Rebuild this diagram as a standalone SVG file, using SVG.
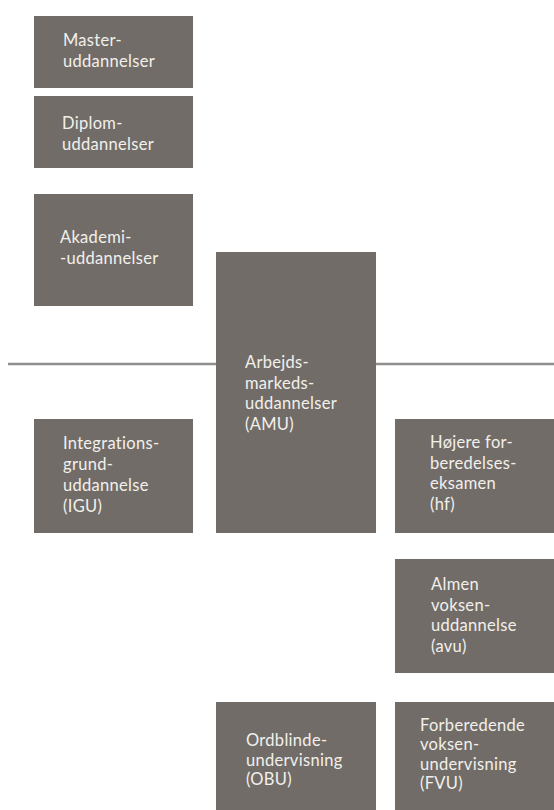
<svg xmlns="http://www.w3.org/2000/svg" width="554" height="810" viewBox="0 0 554 810">
<style>
.box{fill:#716c67;}
.t{font-family:Lato,"Open Sans",sans-serif;font-size:16.5px;letter-spacing:0.3px;fill:#f2f0ec;}
.ln{stroke:#8e8e8e;stroke-width:2.5;fill:none;}
</style>
<rect width="554" height="810" fill="#ffffff"/>
<g id="connectors">
<line class="ln" x1="8" y1="364" x2="216" y2="364"/>
<line class="ln" x1="376" y1="364" x2="554" y2="364"/>
</g>
<g id="master">
<rect class="box" x="34" y="16" width="159" height="72"/>
<text class="t" x="63" y="45.5">Master-</text>
<text class="t" x="63" y="66.5">uddannelser</text>
</g>
<g id="diplom">
<rect class="box" x="34" y="96" width="159" height="72"/>
<text class="t" x="62" y="129">Diplom-</text>
<text class="t" x="62" y="150">uddannelser</text>
</g>
<g id="akademi">
<rect class="box" x="34" y="194" width="159" height="112"/>
<text class="t" x="60" y="242.5">Akademi-</text>
<text class="t" x="60" y="263.5">-uddannelser</text>
</g>
<g id="amu">
<rect class="box" x="216" y="252" width="160" height="281"/>
<text class="t" x="245" y="368">Arbejds-</text>
<text class="t" x="245" y="388.5">markeds-</text>
<text class="t" x="245" y="409">uddannelser</text>
<text class="t" x="245" y="429.5">(AMU)</text>
</g>
<g id="igu">
<rect class="box" x="34" y="419" width="159" height="114"/>
<text class="t" x="63" y="449">Integrations-</text>
<text class="t" x="63" y="470">grund-</text>
<text class="t" x="63" y="491">uddannelse</text>
<text class="t" x="63" y="512">(IGU)</text>
</g>
<g id="hf">
<rect class="box" x="395" y="419" width="159" height="114"/>
<text class="t" x="430" y="448">Højere for-</text>
<text class="t" x="430" y="468.5">beredelses-</text>
<text class="t" x="430" y="489">eksamen</text>
<text class="t" x="430" y="509.5">(hf)</text>
</g>
<g id="avu">
<rect class="box" x="395" y="559" width="159" height="114"/>
<text class="t" x="431" y="590">Almen</text>
<text class="t" x="431" y="610.5">voksen-</text>
<text class="t" x="431" y="631">uddannelse</text>
<text class="t" x="431" y="651.5">(avu)</text>
</g>
<g id="obu">
<rect class="box" x="216" y="702" width="160" height="108"/>
<text class="t" x="246" y="746">Ordblinde-</text>
<text class="t" x="246" y="765.5">undervisning</text>
<text class="t" x="246" y="785">(OBU)</text>
</g>
<g id="fvu">
<rect class="box" x="395" y="702" width="159" height="108"/>
<text class="t" x="420" y="730.5">Forberedende</text>
<text class="t" x="420" y="750">voksen-</text>
<text class="t" x="420" y="769.5">undervisning</text>
<text class="t" x="420" y="789">(FVU)</text>
</g>
</svg>
